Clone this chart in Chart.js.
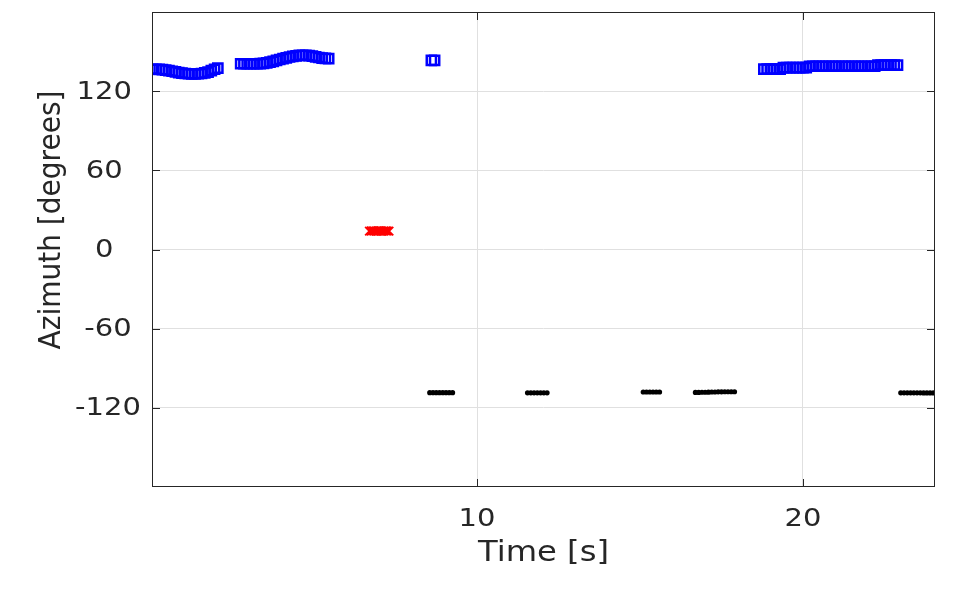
<!DOCTYPE html>
<html>
<head>
<meta charset="utf-8">
<script src="https://cdn.jsdelivr.net/npm/chart.js@4.4.1/dist/chart.umd.min.js"></script>
<style>
  html, body { margin: 0; padding: 0; background: #ffffff; }
  #azChart { display: block; }
</style>
</head>
<body>
<canvas id="azChart" width="953" height="594"></canvas>
<script>
// source 1 (blue squares)
const blueTime = [
    0.05, 0.15, 0.25, 0.35, 0.45, 0.55, 0.65, 0.75, 0.85, 0.95, 1.05,
    1.15, 1.25, 1.35, 1.45, 1.55, 1.65, 1.75, 1.85, 1.95, 2.05,
    2.75, 2.85, 2.95, 3.05, 3.15, 3.25, 3.35, 3.45, 3.55, 3.65, 3.75,
    3.85, 3.95, 4.05, 4.15, 4.25, 4.35, 4.45, 4.55, 4.65, 4.75, 4.85,
    4.95, 5.05, 5.15, 5.25, 5.35, 5.45,
    8.6, 8.7,
    18.8, 18.9, 19.0, 19.1, 19.2, 19.3, 19.4, 19.5, 19.6, 19.7, 19.8,
    19.9, 20.0, 20.1, 20.2, 20.3, 20.4, 20.5, 20.6, 20.7, 20.8, 20.9,
    21.0, 21.1, 21.2, 21.3, 21.4, 21.5, 21.6, 21.7, 21.8, 21.9, 22.0,
    22.1, 22.2, 22.3, 22.4, 22.5, 22.6, 22.7, 22.8, 22.9
];
const blueAz = [
    136.6, 136.6, 136.5, 136.3, 136.0, 135.6, 135.1, 134.6, 134.1, 133.7, 133.4,
    133.2, 133.1, 133.1, 133.2, 133.4, 133.8, 134.5, 135.5, 136.6, 137.5,
    140.8, 140.8, 140.8, 140.8, 140.8, 140.8, 140.9, 141.1, 141.5, 142.0, 142.6,
    143.3, 144.0, 144.7, 145.3, 145.9, 146.4, 146.8, 147.1, 147.2, 147.1, 146.9,
    146.5, 146.0, 145.5, 145.1, 144.8, 144.6,
    143.3, 143.3,
    136.7, 136.7, 136.7, 136.7, 136.7, 136.7, 137.9, 137.9, 137.9, 137.9, 137.9,
    137.9, 137.9, 137.9, 138.9, 138.9, 138.9, 138.9, 138.9, 138.9, 138.9, 138.9,
    138.9, 138.9, 138.9, 138.9, 138.9, 138.9, 138.9, 138.9, 138.9, 138.9, 138.9,
    138.9, 138.9, 139.8, 139.8, 139.8, 139.8, 139.8, 139.8, 139.8
];

// source 2 (red crosses)
const redTime = [6.7, 6.75, 6.8, 6.85, 6.9, 6.95, 7.0, 7.05, 7.1, 7.15, 7.2, 7.25, 7.3];
const redAz = [13.9, 14.0, 14.1, 14.0, 13.9, 14.0, 14.1, 14.0, 13.9, 14.0, 14.1, 14.0, 13.9];

// source 3 (black dots)
const blackTime = [
    8.55, 8.65, 8.75, 8.85, 8.95, 9.05, 9.15, 9.25,
    11.55, 11.65, 11.75, 11.85, 11.95, 12.05, 12.15,
    15.1, 15.2, 15.3, 15.4, 15.5, 15.6,
    16.7, 16.8, 16.9, 17.0, 17.1, 17.2, 17.3, 17.4, 17.5, 17.6, 17.7, 17.8, 17.9,
    23.0, 23.1, 23.2, 23.3, 23.4, 23.5, 23.6, 23.7, 23.8, 23.9, 24.0
];
const blackAz = [
    -108.5, -108.5, -108.5, -108.5, -108.5, -108.5, -108.5, -108.5,
    -108.6, -108.6, -108.6, -108.6, -108.6, -108.6, -108.6,
    -108.0, -108.0, -108.0, -108.0, -108.0, -108.0,
    -108.3, -108.3, -108.2, -108.2, -108.1, -108.0, -108.0, -107.9, -107.9, -107.8, -107.8, -107.8, -107.8,
    -108.6, -108.6, -108.6, -108.6, -108.6, -108.6, -108.6, -108.7, -108.7, -108.7, -108.7
];

const xTicks = [10, 20];
const yTicks = [-120, -60, 0, 60, 120];

function toPoints(ts, vs) {
    return ts.map((t, i) => ({ x: t, y: vs[i] }));
}

const FONT = "'DejaVu Sans', 'Liberation Sans', sans-serif";
const INK = '#262626';
const WIDE = 1.16; // the reference text is a bit wider than plain DejaVu

// draw text stretched horizontally around (x, y)
function wideText(ctx, txt, x, y, sx) {
    ctx.save();
    ctx.translate(x, y);
    ctx.scale(sx, 1);
    ctx.fillText(txt, 0, 0);
    ctx.restore();
}

// MATLAB-like box with inward ticks, tick labels and axis labels
const boxPlugin = {
    id: 'boxPlugin',
    afterDraw(chart) {
        const ctx = chart.ctx;
        const a = chart.chartArea;
        const xs = chart.scales.x;
        const ys = chart.scales.y;
        ctx.save();
        ctx.strokeStyle = INK;
        ctx.lineWidth = 1;
        ctx.strokeRect(a.left + 0.5, a.top + 0.5, a.right - a.left - 1, a.bottom - a.top - 1);
        ctx.beginPath();
        xs.ticks.forEach(t => {
            const px = Math.round(xs.getPixelForValue(t.value)) + 0.5;
            ctx.moveTo(px, a.bottom);
            ctx.lineTo(px, a.bottom - 8);
            ctx.moveTo(px, a.top);
            ctx.lineTo(px, a.top + 8);
        });
        ys.ticks.forEach(t => {
            const py = Math.round(ys.getPixelForValue(t.value)) + 0.5;
            ctx.moveTo(a.left, py);
            ctx.lineTo(a.left + 8, py);
            ctx.moveTo(a.right, py);
            ctx.lineTo(a.right - 8, py);
        });
        ctx.stroke();

        ctx.fillStyle = INK;
        ctx.font = '25px ' + FONT;
        ctx.textAlign = 'center';
        ctx.textBaseline = 'alphabetic';
        xs.ticks.forEach(t => {
            wideText(ctx, String(t.value), xs.getPixelForValue(t.value), 526, WIDE);
        });
        ctx.textBaseline = 'middle';
        ys.ticks.forEach(t => {
            const cx = t.value < 0 ? 108 : 104.3;
            wideText(ctx, String(t.value), cx, ys.getPixelForValue(t.value) + 1, WIDE);
        });

        ctx.font = '28px ' + FONT;
        ctx.textBaseline = 'alphabetic';
        wideText(ctx, 'Time [s]', (a.left + a.right) / 2, 561, 1.15);

        ctx.translate(60, 220);
        ctx.scale(1.1, 1);
        ctx.rotate(-Math.PI / 2);
        ctx.fillText('Azimuth [degrees]', 0, 0);
        ctx.restore();
    }
};

const azCtx = document.getElementById('azChart').getContext('2d');
const azChart = new Chart(azCtx, {
    type: 'scatter',
    data: {
        datasets: [{
            label: 'Source 1',
            data: toPoints(blueTime, blueAz),
            pointStyle: 'rect',
            pointRadius: 6.5,
            borderWidth: 2.5,
            borderColor: '#0000ff',
            backgroundColor: 'rgba(0, 0, 0, 0)'
        }, {
            label: 'Source 2',
            data: toPoints(redTime, redAz),
            pointStyle: 'crossRot',
            pointRadius: 6,
            borderWidth: 2,
            borderColor: '#ff0000',
            backgroundColor: '#ff0000'
        }, {
            label: 'Source 3',
            data: toPoints(blackTime, blackAz),
            pointStyle: 'circle',
            pointRadius: 2.6,
            borderWidth: 0,
            borderColor: '#000000',
            backgroundColor: '#000000'
        }]
    },
    options: {
        responsive: false,
        animation: false,
        events: [],
        layout: { padding: { left: 0, top: 12, right: 18, bottom: 0 } },
        plugins: {
            legend: { display: false },
            tooltip: { enabled: false }
        },
        scales: {
            x: {
                type: 'linear',
                min: 0.03,
                max: 24.05,
                afterBuildTicks: s => { s.ticks = xTicks.map(v => ({ value: v })); },
                afterFit: s => {
                    s.height = 107;
                    s.paddingLeft = 0;
                    s.paddingRight = 0;
                },
                grid: { color: '#e0e0e0', drawTicks: false },
                border: { display: false },
                ticks: { display: false }
            },
            y: {
                type: 'linear',
                min: -180,
                max: 180,
                afterBuildTicks: s => { s.ticks = yTicks.map(v => ({ value: v })); },
                afterFit: s => {
                    s.width = 152;
                    s.paddingTop = 0;
                    s.paddingBottom = 0;
                },
                grid: { color: '#e0e0e0', drawTicks: false },
                border: { display: false },
                ticks: { display: false }
            }
        }
    },
    plugins: [boxPlugin]
});
</script>
</body>
</html>
